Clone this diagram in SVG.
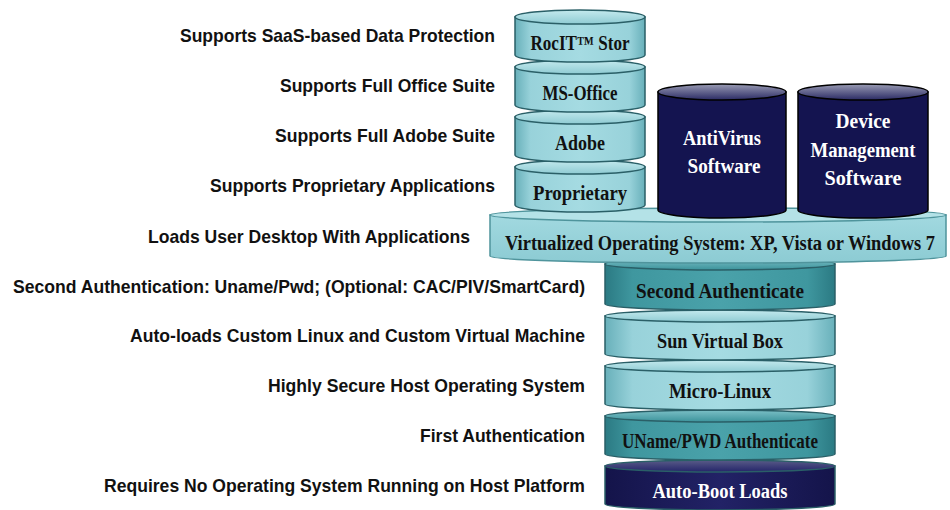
<svg xmlns="http://www.w3.org/2000/svg" width="950" height="510" viewBox="0 0 950 510">
<defs>
<linearGradient id="gLight" x1="0" y1="0" x2="1" y2="0">
<stop offset="0" stop-color="#68b0ba"/><stop offset="0.12" stop-color="#98d2da"/><stop offset="0.5" stop-color="#a5dbe2"/><stop offset="0.88" stop-color="#98d2da"/><stop offset="1" stop-color="#68b0ba"/>
</linearGradient>
<linearGradient id="gLightTop" x1="0" y1="0" x2="0" y2="1">
<stop offset="0" stop-color="#c4eaee"/><stop offset="1" stop-color="#8fcbd3"/>
</linearGradient>
<linearGradient id="gTeal" x1="0" y1="0" x2="1" y2="0">
<stop offset="0" stop-color="#2b7a83"/><stop offset="0.12" stop-color="#3f979f"/><stop offset="0.5" stop-color="#4aa2aa"/><stop offset="0.88" stop-color="#3f979f"/><stop offset="1" stop-color="#2b7a83"/>
</linearGradient>
<linearGradient id="gTealTop" x1="0" y1="0" x2="0" y2="1">
<stop offset="0" stop-color="#7cc0c7"/><stop offset="1" stop-color="#3c939b"/>
</linearGradient>
<linearGradient id="gNavy" x1="0" y1="0" x2="1" y2="0">
<stop offset="0" stop-color="#14144a"/><stop offset="0.5" stop-color="#222266"/><stop offset="1" stop-color="#14144a"/>
</linearGradient>
<linearGradient id="gNavyTop" x1="0" y1="0" x2="0" y2="1">
<stop offset="0" stop-color="#5a5c88"/><stop offset="1" stop-color="#24246a"/>
</linearGradient>
<linearGradient id="gDarkTop" x1="0" y1="0" x2="0" y2="1">
<stop offset="0" stop-color="#9a9cb4"/><stop offset="1" stop-color="#2a2a64"/>
</linearGradient>
<linearGradient id="gDisc" x1="0" y1="0" x2="0" y2="1">
<stop offset="0" stop-color="#a2d9e0"/><stop offset="1" stop-color="#8ccbd3"/>
</linearGradient>
</defs>
<style>
.l{font-family:"Liberation Sans",Arial,sans-serif;font-weight:bold;font-size:19px;fill:#111;text-anchor:end}
.s{font-family:"Liberation Serif","Times New Roman",serif;font-weight:bold;font-size:20px;fill:#111;text-anchor:middle}
.w{fill:#fff}
.edge{stroke:#2a5f67;stroke-width:1.5}
.dk{stroke:#000;stroke-width:1.5}
</style>

<g id="labels">
<text class="l" x="495" y="42" textLength="315" lengthAdjust="spacingAndGlyphs">Supports SaaS-based Data Protection</text>
<text class="l" x="495" y="92" textLength="215" lengthAdjust="spacingAndGlyphs">Supports Full Office Suite</text>
<text class="l" x="495" y="142" textLength="220" lengthAdjust="spacingAndGlyphs">Supports Full Adobe Suite</text>
<text class="l" x="495" y="192" textLength="285" lengthAdjust="spacingAndGlyphs">Supports Proprietary Applications</text>
<text class="l" x="470" y="243" textLength="322" lengthAdjust="spacingAndGlyphs">Loads User Desktop With Applications</text>
<text class="l" x="585" y="293" textLength="572" lengthAdjust="spacingAndGlyphs">Second Authentication: Uname/Pwd; (Optional: CAC/PIV/SmartCard)</text>
<text class="l" x="585" y="342" textLength="455" lengthAdjust="spacingAndGlyphs">Auto-loads Custom Linux and Custom Virtual Machine</text>
<text class="l" x="585" y="392" textLength="317" lengthAdjust="spacingAndGlyphs">Highly Secure Host Operating System</text>
<text class="l" x="585" y="442" textLength="165" lengthAdjust="spacingAndGlyphs">First Authentication</text>
<text class="l" x="585" y="492" textLength="481" lengthAdjust="spacingAndGlyphs">Requires No Operating System Running on Host Platform</text>
</g>

<!-- lower stack, drawn bottom-up -->
<g id="autoboot">
<path class="edge" fill="url(#gNavy)" d="M605,466 L605,504 A115,6 0 0 0 835,504 L835,466 Z"/>
<ellipse class="edge" cx="720" cy="466" rx="115" ry="6" fill="url(#gNavyTop)"/>
<text class="s w" x="720" y="498" textLength="135" lengthAdjust="spacingAndGlyphs">Auto-Boot Loads</text>
</g>
<g id="uname">
<path class="edge" fill="url(#gTeal)" d="M605,416 L605,454 A115,6 0 0 0 835,454 L835,416 Z"/>
<ellipse class="edge" cx="720" cy="416" rx="115" ry="6" fill="url(#gTealTop)"/>
<text class="s" x="720" y="448" textLength="196" lengthAdjust="spacingAndGlyphs">UName/PWD Authenticate</text>
</g>
<g id="microlinux">
<path class="edge" fill="url(#gLight)" d="M605,366 L605,404 A115,6 0 0 0 835,404 L835,366 Z"/>
<ellipse class="edge" cx="720" cy="366" rx="115" ry="6" fill="url(#gLightTop)"/>
<text class="s" x="720" y="398" textLength="102" lengthAdjust="spacingAndGlyphs">Micro-Linux</text>
</g>
<g id="virtualbox">
<path class="edge" fill="url(#gLight)" d="M605,316 L605,354 A115,6 0 0 0 835,354 L835,316 Z"/>
<ellipse class="edge" cx="720" cy="316" rx="115" ry="6" fill="url(#gLightTop)"/>
<text class="s" x="720" y="348" textLength="126" lengthAdjust="spacingAndGlyphs">Sun Virtual Box</text>
</g>
<g id="secondauth">
<path class="edge" fill="url(#gTeal)" d="M605,264 L605,304 A115,6 0 0 0 835,304 L835,264 Z"/>
<ellipse class="edge" cx="720" cy="264" rx="115" ry="6" fill="url(#gTealTop)"/>
<text class="s" x="720" y="298" textLength="168" lengthAdjust="spacingAndGlyphs">Second Authenticate</text>
</g>

<g id="virtualos">
<path fill="url(#gDisc)" stroke="#4f949c" stroke-width="1.5" d="M490,215 L490,256 A228,7 0 0 0 946,256 L946,215 Z"/>
<ellipse cx="718" cy="215" rx="228" ry="7" fill="#b4e2e7" stroke="#4f949c" stroke-width="1.5"/>
<text class="s" x="720" y="250" font-size="17.5" textLength="430" lengthAdjust="spacingAndGlyphs">Virtualized Operating System: XP, Vista or Windows 7</text>
</g>

<!-- top stack, drawn bottom-up -->
<g id="proprietary">
<path class="edge" fill="url(#gLight)" d="M515,167 L515,205 A65,7 0 0 0 645,205 L645,167 Z"/>
<ellipse class="edge" cx="580" cy="167" rx="65" ry="7" fill="url(#gLightTop)"/>
<text class="s" x="580" y="200" textLength="94" lengthAdjust="spacingAndGlyphs">Proprietary</text>
</g>
<g id="adobe">
<path class="edge" fill="url(#gLight)" d="M515,117 L515,155 A65,7 0 0 0 645,155 L645,117 Z"/>
<ellipse class="edge" cx="580" cy="117" rx="65" ry="7" fill="url(#gLightTop)"/>
<text class="s" x="580" y="150" textLength="50" lengthAdjust="spacingAndGlyphs">Adobe</text>
</g>
<g id="msoffice">
<path class="edge" fill="url(#gLight)" d="M515,67 L515,105 A65,7 0 0 0 645,105 L645,67 Z"/>
<ellipse class="edge" cx="580" cy="67" rx="65" ry="7" fill="url(#gLightTop)"/>
<text class="s" x="580" y="100" textLength="75" lengthAdjust="spacingAndGlyphs">MS-Office</text>
</g>
<g id="rocitstor">
<path class="edge" fill="url(#gLight)" d="M515,17 L515,55 A65,7 0 0 0 645,55 L645,17 Z"/>
<ellipse class="edge" cx="580" cy="17" rx="65" ry="7" fill="url(#gLightTop)"/>
<text class="s" x="580" y="50" textLength="99" lengthAdjust="spacingAndGlyphs">RocIT™ Stor</text>
</g>

<g id="antivirus">
<path class="dk" fill="#141450" d="M658,92 L658,210 A64,8 0 0 0 786,210 L786,92 Z"/>
<ellipse class="dk" cx="722" cy="92" rx="64" ry="8" fill="url(#gDarkTop)"/>
<text class="s w" x="722" y="145" textLength="78" lengthAdjust="spacingAndGlyphs">AntiVirus</text>
<text class="s w" x="724" y="173" textLength="73" lengthAdjust="spacingAndGlyphs">Software</text>
</g>
<g id="devicemgmt">
<path class="dk" fill="#141450" d="M798,92 L798,210 A65,8 0 0 0 928,210 L928,92 Z"/>
<ellipse class="dk" cx="863" cy="92" rx="65" ry="8" fill="url(#gDarkTop)"/>
<text class="s w" x="863" y="128" textLength="55" lengthAdjust="spacingAndGlyphs">Device</text>
<text class="s w" x="863" y="157" textLength="105" lengthAdjust="spacingAndGlyphs">Management</text>
<text class="s w" x="863" y="185" textLength="77" lengthAdjust="spacingAndGlyphs">Software</text>
</g>

<g id="connectors"></g>
</svg>
